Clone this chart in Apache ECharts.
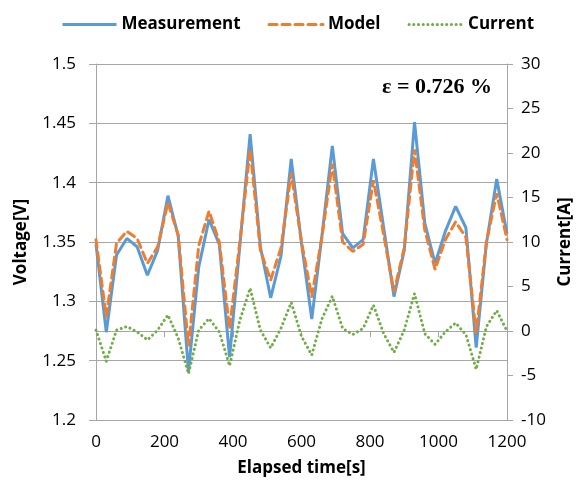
<!DOCTYPE html>
<html>
<head>
<meta charset="utf-8">
<script src="https://cdn.jsdelivr.net/npm/echarts@6/dist/echarts.min.js"></script>
<style>
  html, body { margin: 0; padding: 0; background: #fff; }
  #chart { width: 584px; height: 489px; }
</style>
</head>
<body>
<div id="chart"></div>
<script>
// elapsed time [s], sampled every 30 s
var times = [0, 30, 60, 90, 120, 150, 180, 210, 240, 270, 300, 330, 360, 390, 420, 450, 480, 510, 540, 570,
  600, 630, 660, 690, 720, 750, 780, 810, 840, 870, 900, 930, 960, 990, 1020, 1050, 1080, 1110, 1140, 1170, 1200];

// voltage [V]
var measurement = [1.348, 1.274, 1.339, 1.353, 1.346, 1.322, 1.343, 1.389, 1.355, 1.241, 1.329, 1.369, 1.348, 1.253,
  1.347, 1.441, 1.346, 1.303, 1.338, 1.420, 1.349, 1.285, 1.356, 1.431, 1.357, 1.345, 1.352, 1.420, 1.362, 1.304,
  1.343, 1.451, 1.366, 1.332, 1.359, 1.380, 1.362, 1.261, 1.349, 1.403, 1.357];
var model = [1.352, 1.287, 1.349, 1.359, 1.353, 1.332, 1.346, 1.383, 1.356, 1.262, 1.347, 1.376, 1.350, 1.277,
  1.350, 1.428, 1.343, 1.318, 1.345, 1.408, 1.350, 1.304, 1.355, 1.416, 1.350, 1.342, 1.348, 1.402, 1.356, 1.308,
  1.345, 1.428, 1.360, 1.327, 1.352, 1.367, 1.354, 1.273, 1.350, 1.391, 1.352];

// current [A]
var current = [0.1, -3.4, 0.1, 0.5, -0.1, -1.0, 0.1, 1.8, -0.8, -4.8, 0.1, 1.4, -0.1, -3.9, 1.2, 4.8, 0.1, -1.9,
  0.3, 3.2, -0.6, -2.7, 1.4, 3.9, 0.3, -0.4, 0.3, 2.9, -0.3, -2.4, 0.1, 4.2, -0.3, -1.5, -0.1, 0.9, -0.4, -4.3,
  0.5, 2.3, 0.0];

var seriesNames = ['Measurement', 'Model', 'Current'];
var errorText = 'ε = 0.726 %';

function pairs(values) {
  return times.map(function (t, i) { return [t, values[i]]; });
}

var font = '"Open Sans", sans-serif';
var gridGray = '#a6a6a6';
var axisGray = '#a6a6a6';

var myChart = echarts.init(document.getElementById('chart'), null, { renderer: 'canvas' });

var option = {
  animation: false,
  backgroundColor: '#ffffff',
  grid: { left: 96, right: 77, top: 64, bottom: 69 },
  legend: {
    data: seriesNames,
    left: 56,
    top: 11,
    itemWidth: 54,
    itemHeight: 16,
    itemGap: 27,
    // hide the marker dot, keep only the line sample
    itemStyle: { color: 'rgba(0,0,0,0)', borderWidth: 0 },
    lineStyle: { width: 3 },
    textStyle: { fontFamily: font, fontWeight: 'bold', fontSize: 17, color: '#000' }
  },
  graphic: [{
    type: 'text',
    left: 382,
    top: 76,
    style: {
      text: errorText,
      font: 'bold 22px "Liberation Serif", serif',
      fill: '#000'
    }
  }],
  xAxis: {
    type: 'value',
    min: 0,
    max: 1200,
    interval: 200,
    name: 'Elapsed time[s]',
    nameLocation: 'middle',
    nameGap: 40,
    nameTextStyle: { fontFamily: font, fontWeight: 'bold', fontSize: 17, color: '#000' },
    axisLine: { lineStyle: { color: axisGray, width: 1 } },
    axisTick: { show: true, inside: false, length: 6, lineStyle: { color: axisGray } },
    axisLabel: {
      fontFamily: font, fontSize: 17, color: '#000', margin: 14,
      formatter: function (v) { return String(v); }
    },
    splitLine: { show: false }
  },
  yAxis: [{
    type: 'value',
    min: 1.2,
    max: 1.5,
    interval: 0.05,
    name: 'Voltage[V]',
    nameLocation: 'middle',
    nameGap: 66,
    nameTextStyle: { fontFamily: font, fontWeight: 'bold', fontSize: 17, color: '#000' },
    axisLine: { show: true, lineStyle: { color: axisGray, width: 1 } },
    axisTick: { show: true, inside: false, length: 7, lineStyle: { color: axisGray } },
    axisLabel: { fontFamily: font, fontSize: 17, color: '#000', margin: 20 },
    splitLine: { show: true, lineStyle: { color: gridGray, width: 1 } }
  }, {
    type: 'value',
    min: -10,
    max: 30,
    interval: 5,
    name: 'Current[A]',
    nameLocation: 'middle',
    nameGap: 50,
    nameTextStyle: { fontFamily: font, fontWeight: 'bold', fontSize: 17, color: '#000' },
    axisLine: { show: true, lineStyle: { color: axisGray, width: 1 } },
    axisTick: { show: true, inside: false, length: 6, lineStyle: { color: axisGray } },
    axisLabel: { fontFamily: font, fontSize: 17, color: '#000', margin: 14 },
    splitLine: { show: false }
  }],
  series: [{
    name: seriesNames[0],
    type: 'line',
    yAxisIndex: 0,
    symbol: 'none',
    data: pairs(measurement),
    lineStyle: { color: '#5B9BD5', width: 3 },
    itemStyle: { color: '#5B9BD5' }
  }, {
    name: seriesNames[1],
    type: 'line',
    yAxisIndex: 0,
    symbol: 'none',
    data: pairs(model),
    lineStyle: { color: '#ED7D31', width: 3, type: [8, 5], cap: 'round' },
    itemStyle: { color: '#ED7D31' }
  }, {
    name: seriesNames[2],
    type: 'line',
    yAxisIndex: 1,
    symbol: 'none',
    data: pairs(current),
    lineStyle: { color: '#70AD47', width: 3, type: [0.1, 4.6], cap: 'round' },
    itemStyle: { color: '#70AD47' }
  }]
};

myChart.setOption(option);
</script>
</body>
</html>
